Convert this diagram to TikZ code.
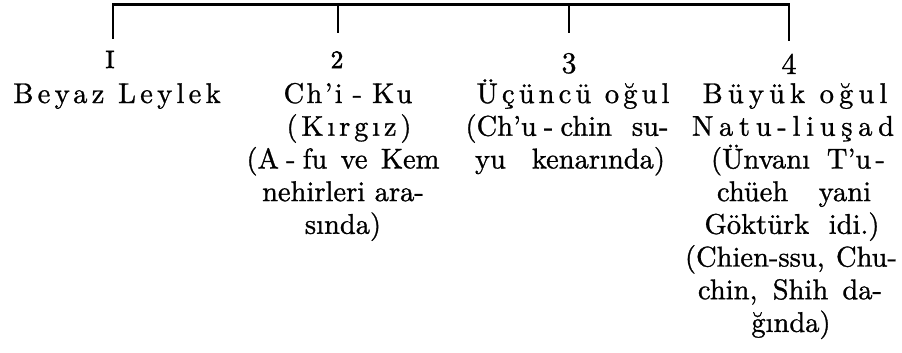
\documentclass[tikz,border=0pt]{standalone}
\usepackage{fontspec}
\setmainfont{lmroman10-regular.otf}[FakeBold=1]
\newcommand\lsp[1]{\addfontfeature{LetterSpace=#1}}
\newcommand\hy{\hspace{0.25em}-\hspace{0.25em}}
\tikzset{
  tree/.style={line width=2.4pt, line join=miter},
  txt/.style={anchor=base, inner sep=0pt, font=\fontsize{28.5}{33}\selectfont},
  numsmall/.style={anchor=base, inner sep=0pt, font=\fontsize{25}{25}\selectfont\addfontfeature{FakeBold=2.5}},
  numbig/.style={anchor=base, inner sep=0pt, font=\fontsize{30}{30}\selectfont}
}
\begin{document}
\begin{tikzpicture}[x=1pt,y=-1pt]
\fill[white] (0,0) rectangle (902,353);
\useasboundingbox (0,0) rectangle (902,353);
% tree
\coordinate (t1) at (113,4.5);
\coordinate (t2) at (338,4.5);
\coordinate (t3) at (569,4.5);
\coordinate (t4) at (789,4.5);
\coordinate (b1) at (113,39);
\coordinate (b2) at (338,33);
\coordinate (b3) at (569,33);
\coordinate (b4) at (789,41);
\draw[tree] (b1) -- (t1) -- (t4) -- (b4);
\draw[tree] (t2) -- (b2);
\draw[tree] (t3) -- (b3);
% numbers
\node[numsmall] (n1) at (110,68) {I};
\node[numsmall] (n2) at (337,68) {2};
\node[numbig] (n3) at (569,73) {3};
\node[numbig] (n4) at (789,74) {4};
% column 1
\node[txt] (c1r0) at (117,103) {\lsp{15}Beyaz Leylek};
% column 2
\node[txt] (c2r0) at (348,103) {\lsp{8}Ch’i\hspace{0.35em}-\hspace{0.35em}Ku};
\node[txt] (c2r1) at (349,135.7) {\lsp{13.4}(Kırgız)};
\node[txt] (c2r2) at (343,168.4) {\makebox[193pt][s]{(A\hy fu ve Kem}};
\node[txt] (c2r3) at (343,201.1) {nehirleri ara-};
\node[txt] (c2r4) at (343,233.8) {sında)};
% column 3
\node[txt] (c3r0) at (573,103) {\lsp{14.4}Üçüncü oğul};
\node[txt] (c3r1) at (567,135.7) {\makebox[203pt][s]{(Ch’u\hy chin su-}};
\node[txt] (c3r2) at (570,168.4) {\makebox[190pt][s]{yu kenarında)}};
% column 4
\node[txt] (c4r0) at (795,103) {\lsp{18}Büyük oğul};
\node[txt] (c4r1) at (793,135.7) {\lsp{20}Natu-liuşad};
\node[txt] (c4r2) at (798,168.4) {\makebox[174pt][s]{(Ünvanı T’u\hspace{0.15em}-}};
\node[txt] (c4r3) at (794,201.1) {\makebox[154pt][s]{chüeh yani}};
\node[txt] (c4r4) at (792,233.8) {\makebox[175pt][s]{Göktürk idi.)}};
\node[txt] (c4r5) at (791,266.5) {\makebox[212pt][s]{(Chien-ssu, Chu-}};
\node[txt] (c4r6) at (790,299.2) {\makebox[184pt][s]{chin, Shih da-}};
\node[txt] (c4r7) at (791,331.9) {ğında)};
\end{tikzpicture}
\end{document}
